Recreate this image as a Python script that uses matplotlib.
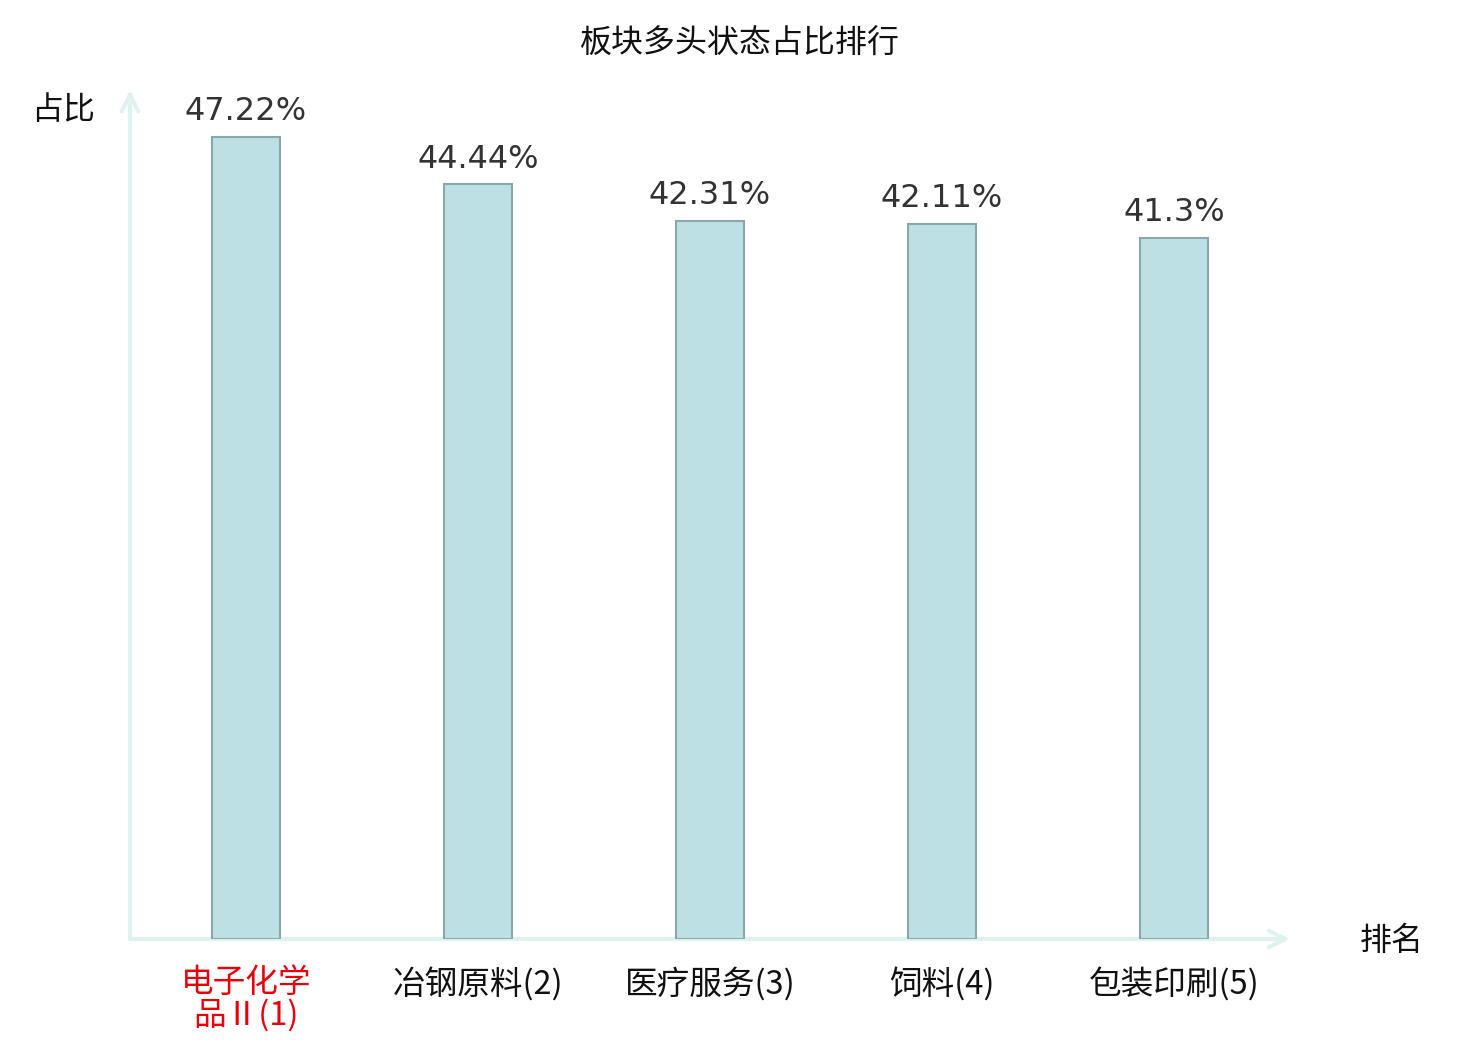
import matplotlib
matplotlib.use("Agg")
import matplotlib.pyplot as plt

plt.rcParams["font.family"] = ["Noto Sans CJK SC", "DejaVu Sans"]

categories = ["电子化学\n品Ⅱ(1)", "冶钢原料(2)", "医疗服务(3)", "饲料(4)", "包装印刷(5)"]
values = [47.22, 44.44, 42.31, 42.11, 41.3]
value_labels = ["47.22%", "44.44%", "42.31%", "42.11%", "41.3%"]
highlight = 0

axis_color = "#dff2f0"

fig = plt.figure(figsize=(14.8, 10.4), dpi=100)
ax = fig.add_axes([130 / 1480, 101 / 1040, 1160 / 1480, 849 / 1040])

x = range(len(categories))
ax.bar(x, values, width=0.293, color="#bce0e3", edgecolor="#8aa8a8", linewidth=1.5, zorder=2)

for xi, v, lab in zip(x, values, value_labels):
    ax.annotate(lab, (xi, v), xytext=(0, 7), textcoords="offset points",
                ha="center", va="bottom", fontsize=23, color="#333333",
                family="DejaVu Sans")

ax.set_xlim(-0.5, 4.5)
ax.set_ylim(0, 50)
ax.set_yticks([])
ax.set_xticks(list(x))
ax.set_xticklabels(categories, fontsize=23.5, linespacing=1.02)
ax.tick_params(axis="x", length=0, pad=20)
for i, t in enumerate(ax.get_xticklabels()):
    t.set_color("#e8000b" if i == highlight else "#111111")

for s in ax.spines.values():
    s.set_visible(False)

# axis arrows
ax.annotate("", xy=(0, 1), xytext=(0, 0), xycoords="axes fraction",
            arrowprops=dict(arrowstyle="->", color=axis_color, lw=3,
                            mutation_scale=30, shrinkA=0, shrinkB=0), zorder=1)
ax.annotate("", xy=(1, 0), xytext=(0, 0), xycoords="axes fraction",
            arrowprops=dict(arrowstyle="->", color=axis_color, lw=3,
                            mutation_scale=30, shrinkA=0, shrinkB=0), zorder=1)

fig.text(63 / 1480, 1 - 110 / 1040, "占比", ha="center", va="center", fontsize=23, color="#111111")
fig.text(1392 / 1480, 1 - 941 / 1040, "排名", ha="center", va="center", fontsize=23, color="#111111")
fig.text(0.5, 1 - 44 / 1040, "板块多头状态占比排行", ha="center", va="center", fontsize=23, color="#111111")

fig.savefig("out.png", dpi=100)
